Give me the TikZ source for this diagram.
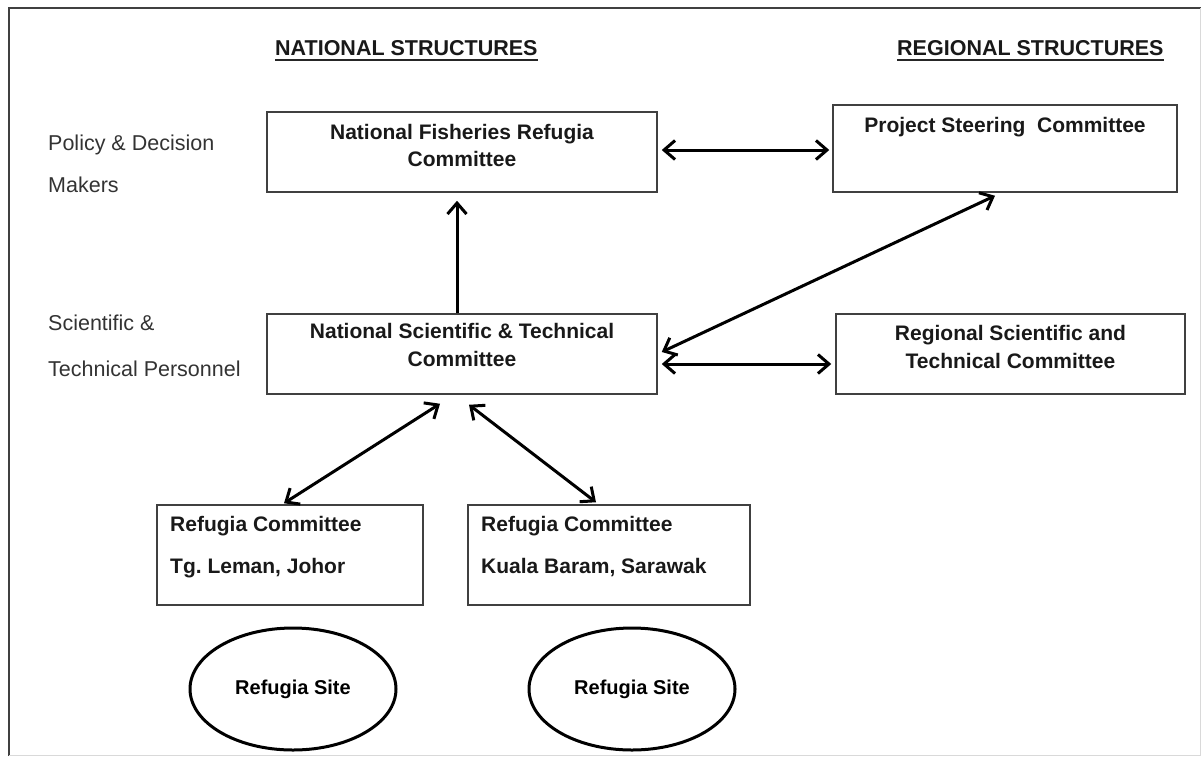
\documentclass[tikz,border=0pt]{standalone}
\usepackage{fontspec}
\setmainfont{Liberation Sans}
\usetikzlibrary{arrows.meta,shapes.geometric}
\begin{document}
\begin{tikzpicture}[x=1pt,y=-1pt,
  box/.style={draw=black!75,line width=1.5pt,inner sep=0pt,rectangle},
  btxt/.style={font=\bfseries\fontsize{21}{25}\selectfont,anchor=base,inner sep=0pt,text=black!90},
  bltxt/.style={btxt,anchor=base west},
  ltxt/.style={font=\fontsize{21.5}{25}\selectfont,anchor=base west,inner sep=0pt,text=black!80},
  htxt/.style={font=\bfseries\fontsize{21.5}{25}\selectfont,anchor=base west,inner sep=0pt,text=black!90},
  uline/.style={line width=1.8pt,black!85},
  site/.style={ellipse,draw=black,line width=3pt,minimum width=206pt,minimum height=122pt,inner sep=0pt,font=\bfseries\fontsize{20}{24}\selectfont},
  arr/.style={line width=3pt,{Straight Barb[length=11pt,width=19pt]}-{Straight Barb[length=11pt,width=19pt]}},
  uarr/.style={line width=3pt,-{Straight Barb[length=11pt,width=19pt]}},
  frame/.style={line width=2pt,black!75}]
\useasboundingbox (0,0) rectangle (1201,756);
% frame
\draw[frame] (9,756) -- (9,8) -- (1201,8);
\draw[line width=1pt,black!15] (1200,8) -- (1200,755) -- (9,755);
% headings
\node[htxt] (natH) at (275,55) {NATIONAL STRUCTURES};
\draw[uline] ([yshift=-5pt]natH.base west) -- ([yshift=-5pt]natH.base east);
\node[htxt] (regH) at (897,55) {REGIONAL STRUCTURES};
\draw[uline] ([yshift=-5pt]regH.base west) -- ([yshift=-5pt]regH.base east);
% left labels
\node[ltxt] (pol1) at (48,150) {Policy \& Decision};
\node[ltxt] (pol2) at (48,192) {Makers};
\node[ltxt] (sci1) at (48,330) {Scientific \&};
\node[ltxt] (sci2) at (48,376) {Technical Personnel};
% boxes
\node[box,minimum width=390pt,minimum height=80pt] (nfrc) at (462,152) {};
\node[btxt] (nfrcA) at (462,139) {National Fisheries Refugia};
\node[btxt] (nfrcB) at (462,166) {Committee};
\node[box,minimum width=344pt,minimum height=87pt] (psc) at (1005,148.5) {};
\node[btxt] (pscA) at (1005,132) {Project Steering\ \ Committee};
\node[box,minimum width=390pt,minimum height=80pt] (nstc) at (462,354) {};
\node[btxt] (nstcA) at (462,338) {National Scientific \& Technical};
\node[btxt] (nstcB) at (462,366) {Committee};
\node[box,minimum width=349pt,minimum height=80pt] (rstc) at (1010.5,354) {};
\node[btxt] (rstcA) at (1010.5,340) {Regional Scientific and};
\node[btxt] (rstcB) at (1010.5,368) {Technical Committee};
\node[box,minimum width=266pt,minimum height=100pt] (rc1) at (290,555) {};
\node[bltxt] (rc1A) at (170,531) {Refugia Committee};
\node[bltxt] (rc1B) at (170,573) {Tg.\ Leman, Johor};
\node[box,minimum width=282pt,minimum height=100pt] (rc2) at (609,555) {};
\node[bltxt] (rc2A) at (481,531) {Refugia Committee};
\node[bltxt] (rc2B) at (481,573) {Kuala Baram, Sarawak};
% sites
\node[site] (e1) at (293,689) {Refugia Site};
\node[site] (e2) at (632,689) {Refugia Site};
% connectors
\draw[arr] ([xshift=4pt,yshift=2pt]nfrc.east) -- ([xshift=-3pt,yshift=2pt]nfrc.east -| psc.west);
\draw[uarr] ([xshift=-5pt]nstc.north) -- ([xshift=-5pt,yshift=-8pt]nfrc.south);
\draw[arr] ([xshift=4pt,yshift=2pt]nstc.east) -- ([xshift=-10pt,yshift=-3pt]psc.south);
\draw[arr] ([xshift=4pt,yshift=-10pt]nstc.east) -- ([xshift=-4pt,yshift=-10pt]nstc.east -| rstc.west);
\draw[arr] ([xshift=-22pt,yshift=-9pt]nstc.south) -- ([xshift=-6pt,yshift=1pt]rc1.north);
\draw[arr] ([xshift=7pt,yshift=-10pt]nstc.south) -- ([xshift=-13pt,yshift=2pt]rc2.north);
\end{tikzpicture}
\end{document}
